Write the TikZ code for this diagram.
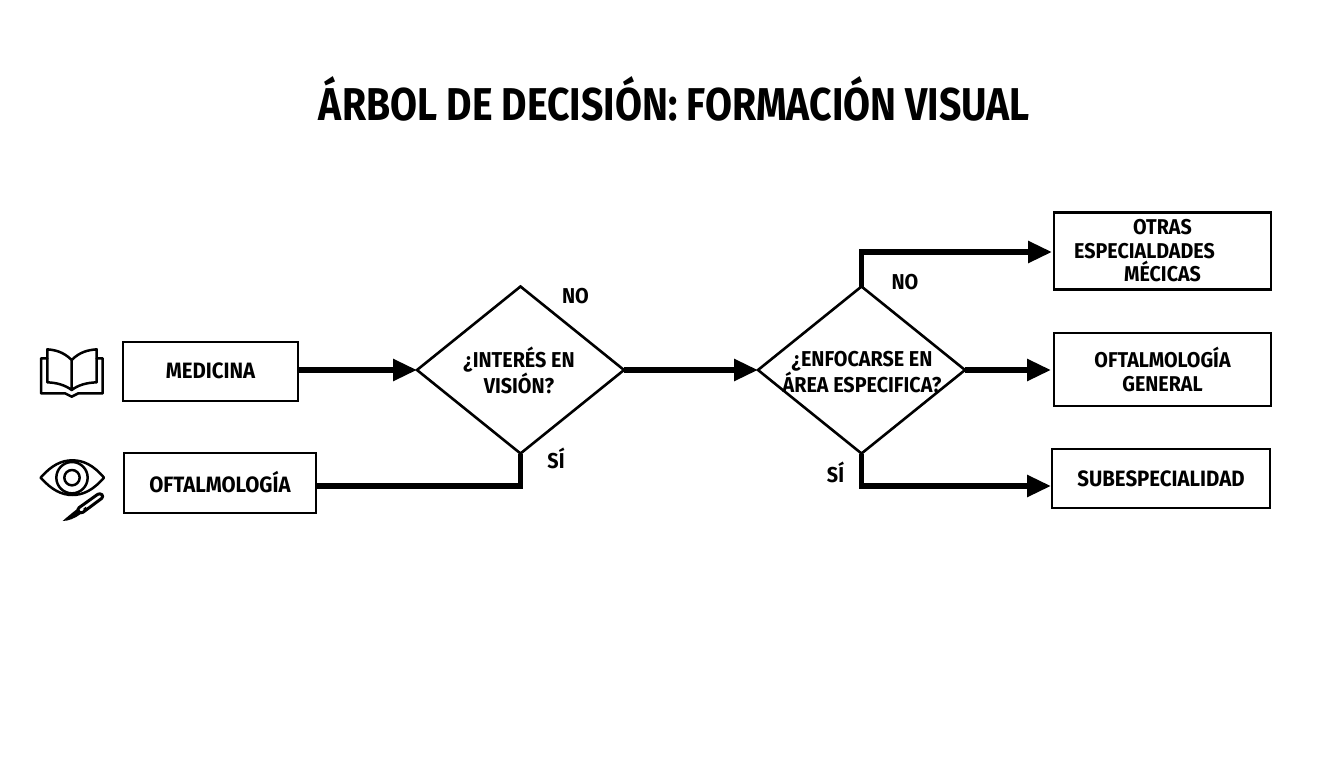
\documentclass[tikz,border=0pt]{standalone}
\usepackage{fontspec}
\usetikzlibrary{shapes.geometric,arrows.meta}
\setmainfont{Fira Sans}[BoldFeatures={FakeStretch=0.92}]
\newfontfamily\titlefont{Fira Sans}[BoldFeatures={FakeStretch=0.85}]
\newcommand{\up}[2]{\raisebox{#1}{#2}}
\tikzset{
  box/.style={draw=black,line width=2.8pt,fill=white,rectangle,inner sep=0pt,outer sep=0pt,align=center,font=\bfseries\fontsize{22.2}{23.5}\selectfont},
  boxr/.style={box,font=\bfseries\fontsize{21.4}{23.5}\selectfont},
  dia/.style={draw=black,line width=2.6pt,fill=white,diamond,inner sep=0pt,outer sep=0pt,minimum width=207pt,minimum height=167pt,aspect=1.24},
  lbl/.style={inner sep=0pt,align=center,font=\bfseries\fontsize{21.5}{23.5}\selectfont},
  conn/.style={line width=5.6pt,draw=black,line join=miter},
  arr/.style={conn,-{Triangle[length=24pt,width=21pt]}},
  icon/.style={line width=2.5pt,draw=black,line join=round,line cap=round},
}
\begin{document}
\begin{tikzpicture}[x=1pt,y=-1pt]
\useasboundingbox (0,0) rectangle (1344,768);
\fill[white] (0,0) rectangle (1344,768);
\node[inner sep=0pt,font=\titlefont\bfseries\fontsize{46}{48}\selectfont] (title) at (674.5,99) {ÁRBOL DE DECISIÓN: FORMACIÓN VISUAL};

\node[box,minimum width=175pt,minimum height=59pt] (med) at (210.5,371.5) {\up{1pt}{MEDICINA}};
\node[box,minimum width=192pt,minimum height=60pt] (oft) at (220,483) {\up{2pt}{OFTALMOLOGÍA}};
\node[dia] (d1) at (520.5,370) {};
\node[dia] (d2) at (861.5,370) {};
\node[lbl] (d1t) at (519,370.5) {¿INTERÉS EN\\VISIÓN?};
\node[lbl] (d2t) at (862,372) {¿ENFOCARSE EN\\ÁREA ESPECIFICA?};
\node[boxr,minimum width=217pt,minimum height=77pt] (otr) at (1162.5,251) {\up{1pt}{OTRAS}\\\up{1pt}{ESPECIALDADES\hspace{36pt}}\\\up{1pt}{MÉCICAS}};
\node[boxr,minimum width=217pt,minimum height=73pt] (gen) at (1162.5,369.5) {OFTALMOLOGÍA\\GENERAL};
\node[box,minimum width=218pt,minimum height=59pt] (sub) at (1161,478.5) {SUBESPECIALIDAD};

\node[lbl] (no1) at (575.5,296) {NO};
\node[lbl] (si1) at (556,458) {SÍ};
\node[lbl] (no2) at (905,282) {NO};
\node[lbl] (si2) at (835.5,472.5) {SÍ};

\coordinate (c1) at (d1.south |- 0,486);
\coordinate (c2) at (d2.north |- 0,252);
\coordinate (c3) at (d2.south |- 0,486);
\coordinate (e1) at (1052,252);
\coordinate (e2) at (1051,370);
\coordinate (e3) at (1051,486);
\coordinate (s2) at (oft.east |- c1);

\draw[arr] (med.east |- d1.west) -- (d1.west);
\draw[conn] (s2) -- (c1) -- (d1.south);
\draw[arr] (d1.east) -- (d2.west);
\draw[arr] (d2.north) -- (c2) -- (e1);
\draw[arr] (d2.east) -- (e2);
\draw[arr] (d2.south) -- (c3) -- (e3);

\begin{scope}[shift={(20,320)},x=0.33333pt,y=-0.33333pt]
  % book
  \draw[icon] (155,120) .. controls (130,95) and (105,90) .. (82,88) -- (82,187) .. controls (110,188) and (135,195) .. (155,210)
     .. controls (175,195) and (200,188) .. (230,187) -- (230,88) .. controls (205,90) and (180,95) .. (155,120) -- (155,210);
  \draw[icon] (82,115) -- (63,115) -- (63,220) -- (135,220) .. controls (145,220) and (145,230) .. (155,230)
     .. controls (165,230) and (165,220) .. (175,220) -- (248,220) -- (248,115) -- (230,115);
  % eye
  \draw[icon] (62,473) .. controls (95,435) and (125,421) .. (157,421) .. controls (190,421) and (220,435) .. (252,473)
     .. controls (220,510) and (190,525) .. (157,525) .. controls (125,525) and (95,510) .. (62,473) -- cycle;
  \draw[icon] (156,473) circle[radius=47];
  \draw[icon] (156,473) circle[radius=23];
  % scalpel
  \draw[icon,line width=3pt,rounded corners=3pt] (240,518) -- (252,530) -- (182,582) -- (170,568) -- cycle;
  \fill (170,568) -- (182,582) .. controls (165,595) and (145,603) .. (128,603) .. controls (140,592) and (155,580) .. (170,568) -- cycle;
  \fill (190,566) -- (198,560) -- (200,568) -- (192,574) -- cycle;
\end{scope}
\end{tikzpicture}
\end{document}
